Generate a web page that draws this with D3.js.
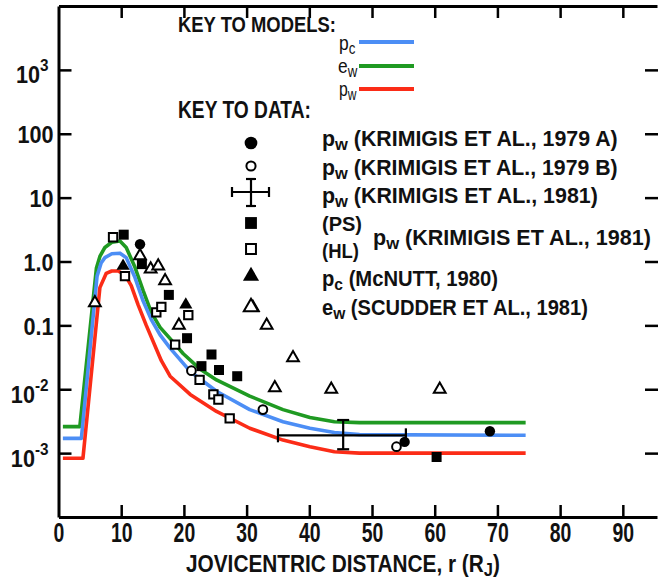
<!DOCTYPE html>
<html>
<head>
<meta charset="utf-8">
<script src="https://cdnjs.cloudflare.com/ajax/libs/d3/7.8.5/d3.min.js"></script>
<style>
    body { margin: 0; background-color: #fff; }
    svg { display: block; }
    text { font-family: 'Liberation Sans', Arial, sans-serif; font-weight: bold; fill: #111; }
    .axis path, .axis line { fill: none; stroke: #000; }
</style>
</head>
<body>
<svg width="658" height="582"></svg>
<script>
// tick values and labels
var xTicks = [0, 10, 20, 30, 40, 50, 60, 70, 80, 90];
var yTicks = [1e-3, 1e-2, 0.1, 1, 10, 100, 1e3];
var yTickBase = ["10", "10", "0.1", "1.0", "10", "100", "10"];
var yTickPow = ["-3", "-2", "", "", "", "", "3"];

// model curves, r in R_J
var pcR = [0.7, 3.65, 6.15, 6.8, 7.4, 8.5, 9.8, 10.8, 12.2, 13.5, 14.8, 16.2, 17.8, 21, 25.2, 30.5, 35.8, 40.1, 44, 48, 74.5];
var pcVal = [0.0017, 0.0017, 0.59, 0.95, 1.15, 1.32, 1.35, 1.15, 0.56, 0.24, 0.123, 0.071, 0.044, 0.019, 0.0093, 0.0048, 0.0031, 0.00245, 0.0021, 0.00195, 0.0019];
var ewR = [0.7, 3.4, 6.05, 6.6, 7.4, 8.5, 9.8, 10.8, 12.2, 13.5, 14.8, 16.2, 17.8, 19.9, 22.5, 25.2, 30.5, 35.8, 40.1, 44, 48, 74.5];
var ewVal = [0.0026, 0.0026, 0.79, 1.2, 1.66, 2.0, 2.09, 1.66, 0.81, 0.35, 0.16, 0.093, 0.062, 0.036, 0.021, 0.014, 0.0078, 0.0048, 0.0036, 0.0031, 0.0030, 0.0030];
var pwR = [0.7, 3.9, 6.6, 7.6, 8.5, 9.5, 10.6, 11.6, 12.7, 14, 16.4, 17.8, 21, 25.2, 30.5, 35.8, 40.1, 44, 48, 74.5];
var pwVal = [0.00083, 0.00083, 0.39, 0.65, 0.71, 0.71, 0.62, 0.42, 0.21, 0.10, 0.028, 0.016, 0.0083, 0.0045, 0.00245, 0.0016, 0.00126, 0.00105, 0.001, 0.001];

// data points
var k79aR = [13.0, 55.2, 68.8];
var k79aVal = [1.86, 0.0015, 0.0022];
var k79bR = [21.2, 32.6, 53.9];
var k79bVal = [0.0195, 0.0048, 0.00126];
var psR = [10.4, 13.3, 17.6, 20.5, 22.8, 24.4, 25.6, 28.5, 60.3];
var psVal = [2.63, 0.91, 0.30, 0.063, 0.023, 0.035, 0.020, 0.016, 0.00087];
var hlR = [8.7, 10.6, 15.6, 16.4, 18.6, 20.7, 22.5, 24.7, 25.5, 27.3];
var hlVal = [2.4, 0.59, 0.16, 0.195, 0.05, 0.145, 0.014, 0.0083, 0.0069, 0.0035];
var mcR = [10.3, 20.3];
var mcVal = [0.85, 0.21];
var scR = [5.8, 13.0, 14.7, 15.9, 17.0, 19.2, 31.0, 33.2, 34.5, 37.4, 43.5, 60.8];
var scVal = [0.226, 1.23, 0.76, 0.85, 0.50, 0.10, 0.19, 0.10, 0.0105, 0.031, 0.010, 0.010];
// Krimigis 1981 with error bars
var k81R = [45.4], k81Val = [0.0019];
var k81RLo = [35], k81RHi = [55.4];
var k81ValLo = [0.00115], k81ValHi = [0.0033];

var svg = d3.select("svg");
var x = d3.scaleLinear().domain([0, 95.45]).range([58.5, 657]);
var y = d3.scaleLog().domain([1e-4, 1e4]).range([517, 6]);

var blue = "#4c8ef5", green = "#1f9a22", red = "#fb2c17";

//axes: ticks point inward
var bottom = svg.append("g").attr("class", "axis")
    .attr("transform", "translate(0," + y(1e-4) + ")")
    .call(d3.axisBottom(x).tickValues(xTicks).tickSize(-12).tickSizeOuter(0).tickPadding(24));
bottom.selectAll(".tick text")
    .attr("dy", 0).attr("y", 25)
    .attr("transform", "scale(0.72,1)")
    .style("font-size", "27px").style("font-family", "'Liberation Sans', Arial, sans-serif").attr("fill", "#111");
bottom.select(".tick line").remove(); // no tick at 0

var top = svg.append("g").attr("class", "axis")
    .attr("transform", "translate(0," + y(1e4) + ")")
    .call(d3.axisTop(x).tickValues(xTicks.slice(1)).tickSize(-12).tickSizeOuter(0).tickFormat(""));

var left = svg.append("g").attr("class", "axis")
    .attr("transform", "translate(" + x(0) + ",0)")
    .call(d3.axisLeft(y).tickValues(yTicks).tickSize(-13).tickSizeOuter(0).tickFormat(""));

var right = svg.append("g").attr("class", "axis")
    .attr("transform", "translate(658,0)")
    .call(d3.axisRight(y).tickValues(yTicks).tickSize(-13).tickSizeOuter(0).tickFormat(""));
right.select(".domain").remove();

svg.selectAll(".axis .domain").attr("stroke-width", 3);
svg.selectAll(".axis .tick line").attr("stroke-width", 2.5);

// y tick labels, with superscripts
left.selectAll(".tick").each(function(d, i) {
    var g = d3.select(this);
    var t = g.append("text")
        .attr("text-anchor", "end")
        .style("font-size", "24px");
    if (yTickPow[i]) {
        t.attr("transform", "translate(-10,13) scale(0.9,1)");
        t.append("tspan").text(yTickBase[i]);
        t.append("tspan").attr("dy", -12).style("font-size", "17px").text(yTickPow[i]);
    } else {
        t.attr("transform", "translate(-5,9) scale(0.9,1)").text(yTickBase[i]);
    }
});

// model curves
var line = d3.line()
    .x(function(d) { return x(d[0]); })
    .y(function(d) { return y(d[1]); });
var models = [[ewR, ewVal, green], [pcR, pcVal, blue], [pwR, pwVal, red]];
models.forEach(function(m) {
    svg.append("path")
        .datum(d3.zip(m[0], m[1]))
        .attr("d", line)
        .attr("fill", "none")
        .attr("stroke", m[2])
        .attr("stroke-width", 3.6)
        .attr("stroke-linejoin", "round");
});

// error bar (Krimigis 1981)
var eb = svg.append("g").attr("stroke", "#000").attr("stroke-width", 2.2).attr("fill", "none");
k81R.forEach(function(r, i) {
    var cx = x(r), cy = y(k81Val[i]);
    eb.append("line").attr("x1", x(k81RLo[i])).attr("x2", x(k81RHi[i])).attr("y1", cy).attr("y2", cy);
    eb.append("line").attr("x1", cx).attr("x2", cx).attr("y1", y(k81ValHi[i])).attr("y2", y(k81ValLo[i]));
    eb.append("line").attr("x1", cx - 6).attr("x2", cx + 6).attr("y1", y(k81ValHi[i])).attr("y2", y(k81ValHi[i]));
    eb.append("line").attr("x1", cx - 6).attr("x2", cx + 6).attr("y1", y(k81ValLo[i])).attr("y2", y(k81ValLo[i]));
    eb.append("line").attr("x1", x(k81RLo[i])).attr("x2", x(k81RLo[i])).attr("y1", cy - 7).attr("y2", cy + 7);
    eb.append("line").attr("x1", x(k81RHi[i])).attr("x2", x(k81RHi[i])).attr("y1", cy - 7).attr("y2", cy + 7);
});

// markers
var styles = {
    filledCircle: {type: d3.symbolCircle, size: 85, fill: "#000", stroke: "none"},
    openCircle: {type: d3.symbolCircle, size: 60, fill: "#fff", stroke: "#000"},
    filledSquare: {type: d3.symbolSquare, size: 100, fill: "#000", stroke: "none"},
    openSquare: {type: d3.symbolSquare, size: 70, fill: "#fff", stroke: "#000"},
    filledTriangle: {type: d3.symbolTriangle, size: 75, fill: "#000", stroke: "none"},
    openTriangle: {type: d3.symbolTriangle, size: 60, fill: "#fff", stroke: "#000"}
};
function drawMarkers(rs, vals, st) {
    var s = styles[st];
    svg.append("g").selectAll("path")
        .data(d3.zip(rs, vals))
        .enter().append("path")
        .attr("transform", function(d) { return "translate(" + x(d[0]) + "," + y(d[1]) + ")"; })
        .attr("d", d3.symbol().type(s.type).size(s.size))
        .attr("fill", s.fill)
        .attr("stroke", s.stroke)
        .attr("stroke-width", 2);
}
drawMarkers(hlR, hlVal, "openSquare");
drawMarkers(scR, scVal, "openTriangle");
drawMarkers(k79bR, k79bVal, "openCircle");
drawMarkers(psR, psVal, "filledSquare");
drawMarkers(mcR, mcVal, "filledTriangle");
drawMarkers(k79aR, k79aVal, "filledCircle");

// text helper: parts = [[text, isSub], ...], squeezed horizontally to the given width
function label(px, py, parts, width, size) {
    var t = svg.append("text").attr("x", 0).attr("y", 0).style("font-size", size + "px");
    var shift = 0;
    parts.forEach(function(p) {
        var ts = t.append("tspan").text(p[0]);
        if (p[1] && shift === 0) { ts.attr("dy", 4).style("font-size", (size - 5) + "px"); shift = 4; }
        else if (!p[1] && shift !== 0) { ts.attr("dy", -4); shift = 0; }
    });
    var natural = t.node().getComputedTextLength();
    var sx = width ? width / natural : 1;
    t.attr("transform", "translate(" + px + "," + py + ") scale(" + sx + ",1)");
    return t;
}

// legend: models
label(178, 32, [["KEY TO MODELS:", 0]], 158, 22);
label(339, 50, [["p", 0], ["c", 1]], 18, 21).style("font-weight", "normal");
label(338, 73, [["e", 0], ["w", 1]], 20, 21).style("font-weight", "normal");
label(339, 96, [["p", 0], ["w", 1]], 19, 21).style("font-weight", "normal");
var modelKey = [[blue, 42], [green, 66], [red, 89]];
modelKey.forEach(function(k) {
    svg.append("line").attr("x1", 359).attr("x2", 414).attr("y1", k[1]).attr("y2", k[1])
        .attr("stroke", k[0]).attr("stroke-width", 4);
});

// legend: data
label(178, 118, [["KEY TO DATA:", 0]], 133, 23);
var keyX = 251;
var keyRows = [["filledCircle", 143, 1.5], ["openCircle", 166, 1.1], ["filledSquare", 223, 1.4],
               ["openSquare", 249, 1.4], ["filledTriangle", 276, 1.5], ["openTriangle", 307, 1.5]];
keyRows.forEach(function(k) {
    var s = styles[k[0]];
    svg.append("path")
        .attr("transform", "translate(" + keyX + "," + k[1] + ")")
        .attr("d", d3.symbol().type(s.type).size(s.size * k[2]))
        .attr("fill", s.fill).attr("stroke", s.stroke).attr("stroke-width", 2);
});
var kc = svg.append("g").attr("stroke", "#000").attr("stroke-width", 2.2);
kc.append("line").attr("x1", 232).attr("x2", 269).attr("y1", 192).attr("y2", 192);
kc.append("line").attr("x1", keyX).attr("x2", keyX).attr("y1", 179).attr("y2", 206);
kc.append("line").attr("x1", keyX - 5).attr("x2", keyX + 5).attr("y1", 179).attr("y2", 179);
kc.append("line").attr("x1", keyX - 5).attr("x2", keyX + 5).attr("y1", 206).attr("y2", 206);
kc.append("line").attr("x1", 232).attr("x2", 232).attr("y1", 187).attr("y2", 197);
kc.append("line").attr("x1", 269).attr("x2", 269).attr("y1", 187).attr("y2", 197);

label(322, 146, [["p", 0], ["w", 1], [" (KRIMIGIS ET AL., 1979 A)", 0]], 296, 22);
label(322, 175, [["p", 0], ["w", 1], [" (KRIMIGIS ET AL., 1979 B)", 0]], 296, 22);
label(322, 203, [["p", 0], ["w", 1], [" (KRIMIGIS ET AL., 1981)", 0]], 276, 22);
label(322, 231, [["(PS)", 0]], 40, 21);
label(322, 258, [["(HL)", 0]], 37, 21);
label(373, 245, [["p", 0], ["w", 1], [" (KRIMIGIS ET AL., 1981)", 0]], 278, 22);
label(322, 286, [["p", 0], ["c", 1], [" (McNUTT, 1980)", 0]], 176, 22);
label(322, 315, [["e", 0], ["w", 1], [" (SCUDDER ET AL., 1981)", 0]], 266, 22);

// x axis title
label(186, 572, [["JOVICENTRIC DISTANCE, r (R", 0], ["J", 1], [")", 0]], 314, 24);
</script>
</body>
</html>
